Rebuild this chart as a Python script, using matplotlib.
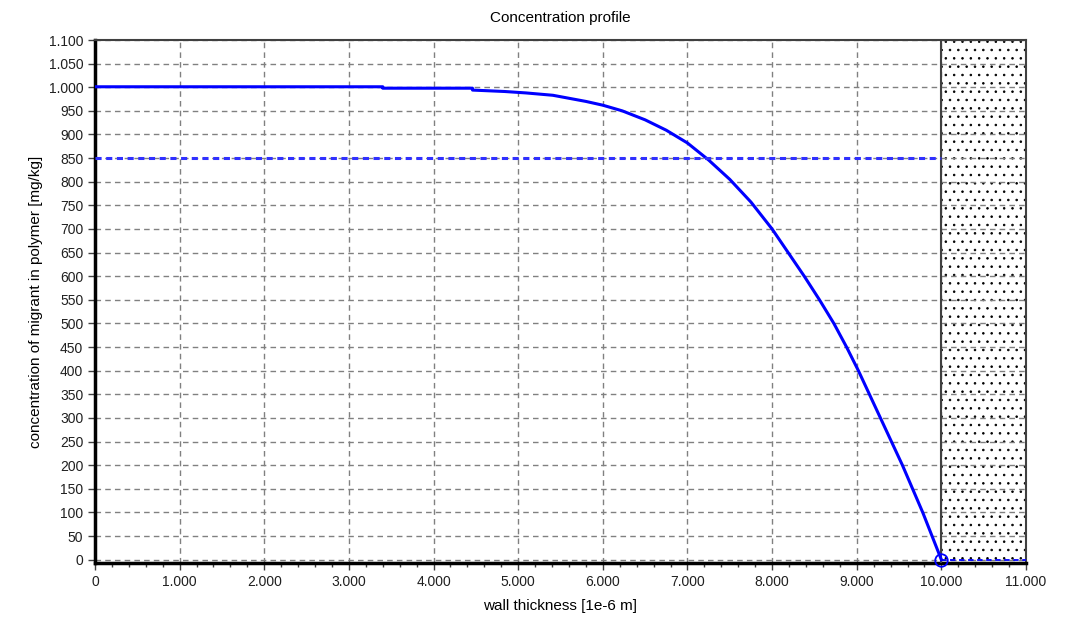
import matplotlib
matplotlib.use("Agg")
import matplotlib.pyplot as plt
from matplotlib.ticker import MultipleLocator, FixedLocator

plt.rcParams['font.family'] = ['Liberation Sans', 'DejaVu Sans']
plt.rcParams['hatch.linewidth'] = 0.6
plt.rcParams['hatch.color'] = 'black'

# concentration profile
wall_x = [0, 3.40, 3.40, 4.46, 4.46, 4.84, 5.09, 5.41, 5.80, 6.0, 6.23, 6.5, 6.75,
          7.0, 7.25, 7.5, 7.75, 8.0, 8.19, 8.38, 8.56, 8.73, 8.88, 9.02, 9.15, 9.28,
          9.41, 9.54, 9.66, 9.78, 9.89, 10.0]
conc_y = [1001, 1001, 998, 998, 994, 991, 988, 983, 970, 962, 950, 931, 909,
          882, 846, 805, 757, 700, 650, 600, 550, 500, 450, 400, 350, 300,
          250, 200, 150, 100, 50, 0]

limit_x = [0, 10.0]
limit_y = [850, 850]
food_x = [10.0, 11.0]
food_y = [0, 0]
wall_end = 10.0

x_ticks = list(range(0, 12))
x_labels = ['0'] + ['%d.000' % v for v in range(1, 12)]
y_ticks = list(range(0, 1101, 50))
y_labels = [str(v) if v < 1000 else '1.%03d' % (v - 1000) for v in y_ticks]

fig = plt.figure(figsize=(10.66, 6.19), dpi=100)
ax = fig.add_axes([95 / 1066, 1 - 563 / 619, (1026 - 95) / 1066, (563 - 40) / 619])

ax.set_xlim(0, 11)
ax.set_ylim(-7, 1100)

# stippled region behind the wall
ax.axvspan(wall_end, 11, facecolor='white', edgecolor='black', hatch='..', linewidth=0, zorder=0)
ax.axvline(wall_end, color='#404040', linewidth=1.5, zorder=3)

ax.grid(True, color='#808080', linestyle=(0, (4, 3)), linewidth=1)
ax.set_axisbelow(True)

ax.plot(wall_x, conc_y, color='#0000ff', linewidth=2.2, zorder=4)
ax.plot(limit_x, limit_y, color='#3030ff', linewidth=2.2, linestyle=(0, (2, 1.5)), zorder=4)
ax.plot(food_x, food_y, color='#0000ff', linewidth=1.3, linestyle=(0, (3, 2)), zorder=4)
ax.plot([wall_end], [0], marker='o', markersize=9, markerfacecolor='none',
        markeredgecolor='#0000ff', markeredgewidth=1.3, zorder=5, clip_on=False)

ax.xaxis.set_major_locator(FixedLocator(x_ticks))
ax.set_xticklabels(x_labels)
ax.xaxis.set_minor_locator(MultipleLocator(0.2))
ax.yaxis.set_major_locator(FixedLocator(y_ticks))
ax.set_yticklabels(y_labels)

ax.tick_params(axis='both', which='major', labelsize=10, labelcolor='#202020',
               color='#404040', length=5, width=1)
ax.tick_params(axis='x', which='minor', length=3, color='#404040', width=1)

for side in ['left', 'bottom']:
    ax.spines[side].set_linewidth(2.5)
    ax.spines[side].set_color('black')
for side in ['top', 'right']:
    ax.spines[side].set_linewidth(1.5)
    ax.spines[side].set_color('#404040')

ax.set_title('Concentration profile', fontsize=11, pad=13)
ax.set_xlabel('wall thickness [1e-6 m]', fontsize=11, labelpad=7)
ax.set_ylabel('concentration of migrant in polymer [mg/kg]', fontsize=11, labelpad=4)

fig.savefig('out.png', dpi=100)
